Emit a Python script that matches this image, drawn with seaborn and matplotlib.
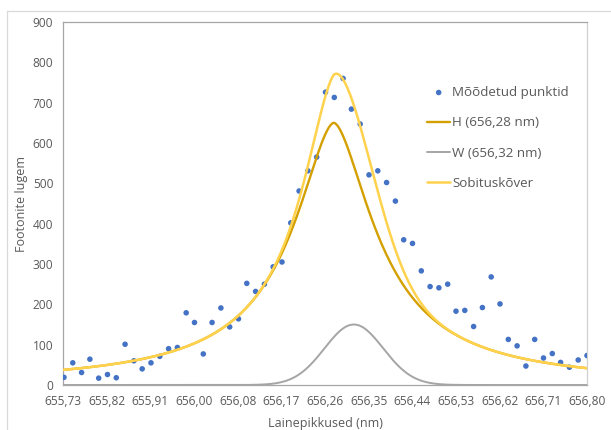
import numpy as np
import pandas as pd
import matplotlib
matplotlib.use("Agg")
import matplotlib.pyplot as plt
from matplotlib.lines import Line2D
from matplotlib.ticker import FixedLocator, MultipleLocator
import seaborn as sns

# Measured spectrum around the H-alpha line
wavelength = [
    655.730, 655.748, 655.766, 655.783, 655.801, 655.819, 655.837, 655.855,
    655.873, 655.890, 655.908, 655.926, 655.944, 655.962, 655.980, 655.997,
    656.015, 656.033, 656.051, 656.069, 656.087, 656.104, 656.122, 656.140,
    656.158, 656.176, 656.194, 656.211, 656.229, 656.247, 656.265, 656.283,
    656.301, 656.318, 656.336, 656.354, 656.372, 656.390, 656.408, 656.425,
    656.443, 656.461, 656.479, 656.497, 656.515, 656.532, 656.550, 656.568,
    656.586, 656.604, 656.622, 656.639, 656.657, 656.675, 656.693, 656.711,
    656.729, 656.746, 656.764, 656.782, 656.800,
]
counts = [
    19, 55, 31, 64, 17, 26, 18, 101, 60, 40,
    55, 71, 90, 93, 179, 155, 77, 155, 191, 144,
    164, 252, 232, 250, 293, 305, 402, 481, 531, 565,
    726, 713, 760, 684, 647, 521, 531, 502, 456, 360,
    351, 283, 244, 241, 250, 183, 185, 145, 192, 268,
    201, 113, 97, 47, 113, 67, 78, 56, 44, 62, 73,
]

# Fitted components
h_center, h_amp, h_width, h_power = 656.282, 650.0, 0.107, 1.7
w_center, w_amp, w_sigma = 656.323, 150.0, 0.060

series_labels = ["Mõõdetud punktid", "H (656,28 nm)", "W (656,32 nm)", "Sobituskõver"]

x_min, x_max = 655.728, 656.800
x_tick_labels = ["655,73", "655,82", "655,91", "656,00", "656,08", "656,17", "656,26",
                 "656,35", "656,44", "656,53", "656,62", "656,71", "656,80"]
y_ticks = [0, 100, 200, 300, 400, 500, 600, 700, 800, 900]

c_points = "#4472C4"
c_h = "#D4A000"
c_w = "#A5A5A5"
c_fit = "#FFD24D"
c_text = "#595959"


def h_profile(x):
    return h_amp / (1.0 + np.abs((x - h_center) / h_width) ** h_power)


def w_profile(x):
    return w_amp * np.exp(-0.5 * ((x - w_center) / w_sigma) ** 2)


sns.set_theme(style="white")
plt.rcParams["font.family"] = ["Open Sans", "DejaVu Sans"]

W_PX, H_PX = 611, 430
fig = plt.figure(figsize=(W_PX / 100, H_PX / 100), dpi=100)
fig.patch.set_facecolor("white")

# outer chart frame
frame_kw = dict(color="#D9D9D9", lw=0.9, transform=fig.transFigure)
fig.add_artist(Line2D([7 / W_PX, 1.0], [1 - 11 / H_PX] * 2, **frame_kw))
fig.add_artist(Line2D([7 / W_PX] * 2, [0.0, 1 - 11 / H_PX], **frame_kw))

ax = fig.add_axes([63 / W_PX, 45 / H_PX, 524 / W_PX, 363 / H_PX])

points = pd.DataFrame({"wavelength": wavelength, "counts": counts})
grid = np.linspace(x_min, x_max, 800)
curves = pd.DataFrame({
    "wavelength": grid,
    "h": h_profile(grid),
    "w": w_profile(grid),
})
curves["fit"] = curves["h"] + curves["w"]

sns.scatterplot(data=points, x="wavelength", y="counts", ax=ax, color=c_points,
                s=16, edgecolor="none", label=series_labels[0], zorder=3)
sns.lineplot(data=curves, x="wavelength", y="h", ax=ax, color=c_h, lw=1.7,
             label=series_labels[1], zorder=4)
sns.lineplot(data=curves, x="wavelength", y="w", ax=ax, color=c_w, lw=1.4,
             label=series_labels[2], zorder=4)
sns.lineplot(data=curves, x="wavelength", y="fit", ax=ax, color=c_fit, lw=1.8,
             label=series_labels[3], zorder=5)

ax.set_xlim(x_min, x_max)
ax.set_ylim(0, 900)
ax.xaxis.set_major_locator(FixedLocator(np.linspace(x_min, x_max, len(x_tick_labels))))
ax.set_xticklabels(x_tick_labels)
ax.xaxis.set_minor_locator(FixedLocator(np.linspace(x_min, x_max, 2 * len(x_tick_labels) - 1)))
ax.yaxis.set_major_locator(FixedLocator(y_ticks))
ax.yaxis.set_minor_locator(MultipleLocator(20))

ax.tick_params(axis="both", which="both", direction="out", colors="#A6A6A6",
               labelcolor=c_text, labelsize=8.6, width=0.8)
ax.tick_params(axis="x", which="both", length=3.5, pad=3.5)
ax.tick_params(axis="y", which="both", length=3, pad=4)

for side in ["left", "bottom", "top"]:
    ax.spines[side].set_color("#A6A6A6")
    ax.spines[side].set_linewidth(0.9)
ax.spines["right"].set_color("#D0D0D0")
ax.spines["right"].set_linewidth(0.9)

ax.set_xlabel("Lainepikkused (nm)", color=c_text, fontsize=9, labelpad=7)
ax.set_ylabel("Footonite lugem", color=c_text, fontsize=9, labelpad=3)

handles, labels = ax.get_legend_handles_labels()
leg = ax.legend(handles, labels, loc="upper left",
                bbox_to_anchor=(427 / W_PX, 1 - 86 / H_PX),
                bbox_transform=fig.transFigure, frameon=False,
                fontsize=9.6, labelcolor=c_text, handlelength=1.75,
                handletextpad=0.12, labelspacing=1.3, borderpad=0,
                borderaxespad=0, markerscale=1.0)

fig.savefig("out.png", dpi=100)
